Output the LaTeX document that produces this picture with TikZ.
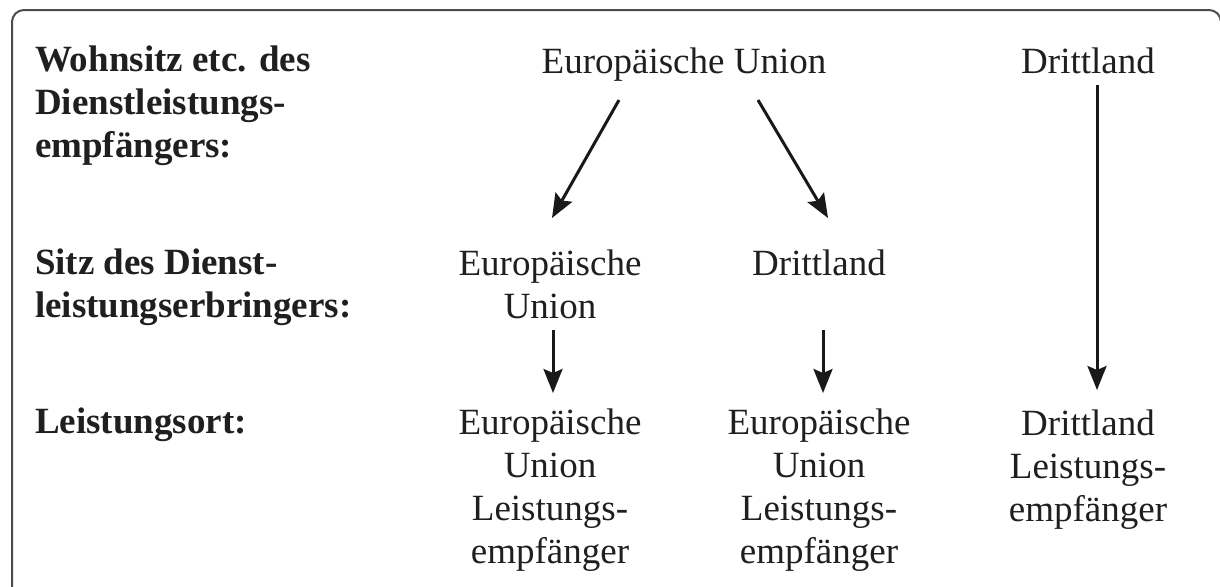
\documentclass[tikz,border=0pt]{standalone}
\usepackage{fontspec}
\setmainfont{Liberation Serif}
\usetikzlibrary{arrows.meta,calc}
\begin{document}
\begin{tikzpicture}[x=0.5pt,y=-0.5pt,
  txt/.style={inner sep=0pt,outer sep=0pt,text=black!88,font=\fontsize{18.5}{21.5}\selectfont},
  lbl/.style={txt,anchor=base west,align=left,font=\fontsize{18.5}{21.5}\selectfont\bfseries},
  cell/.style={txt,anchor=base,align=center},
  arr/.style={line width=1.5pt,draw=black!90,-{Stealth[length=12pt,width=9.5pt,inset=2pt]}},
  frame/.style={draw=black!70,line width=1pt,rounded corners=6pt}]
\useasboundingbox (0,0) rectangle (1220,586);
\begin{scope}
\clip (0,0) rectangle (1220,586);
\draw[frame] (12,10) rectangle (1221,640);
\end{scope}
% left labels (base anchor = baseline of last line)
\node[lbl] (l1) at (35,157) {Wohnsitz etc. des\\Dienstleistungs-\\empfängers:};
\node[lbl] (l2) at (35,317) {Sitz des Dienst-\\leistungserbringers:};
\node[lbl] (l3) at (35,433) {Leistungsort:};
% top row
\node[cell] (eu) at (684,73) {Europäische Union};
\node[cell] (dt) at (1088,73) {Drittland};
% middle row
\node[cell] (eum) at (550,318) {Europäische\\Union};
\node[cell] (dtm) at (819,275) {Drittland};
% bottom row
\node[cell] (r1) at (550,563) {Europäische\\Union\\Leistungs-\\empfänger};
\node[cell] (r2) at (819,563) {Europäische\\Union\\Leistungs-\\empfänger};
\node[cell] (r3) at (1088,521) {Drittland\\Leistungs-\\empfänger};
% arrows
\draw[arr] ($(eu.base)+(-65,27)$) -- ($(eum.base)+(2,-100)$);
\draw[arr] ($(eu.base)+(74,27)$) -- ($(dtm.base)+(9,-57)$);
\draw[arr] ($(dt.base)+(9,12)$) -- ($(r3.base)+(9,-131)$);
\draw[arr] ($(eum.base)+(3,12)$) -- ($(r1.base)+(3,-170)$);
\draw[arr] ($(dtm.base)+(4,55)$) -- ($(r2.base)+(4,-170)$);
\end{tikzpicture}
\end{document}
